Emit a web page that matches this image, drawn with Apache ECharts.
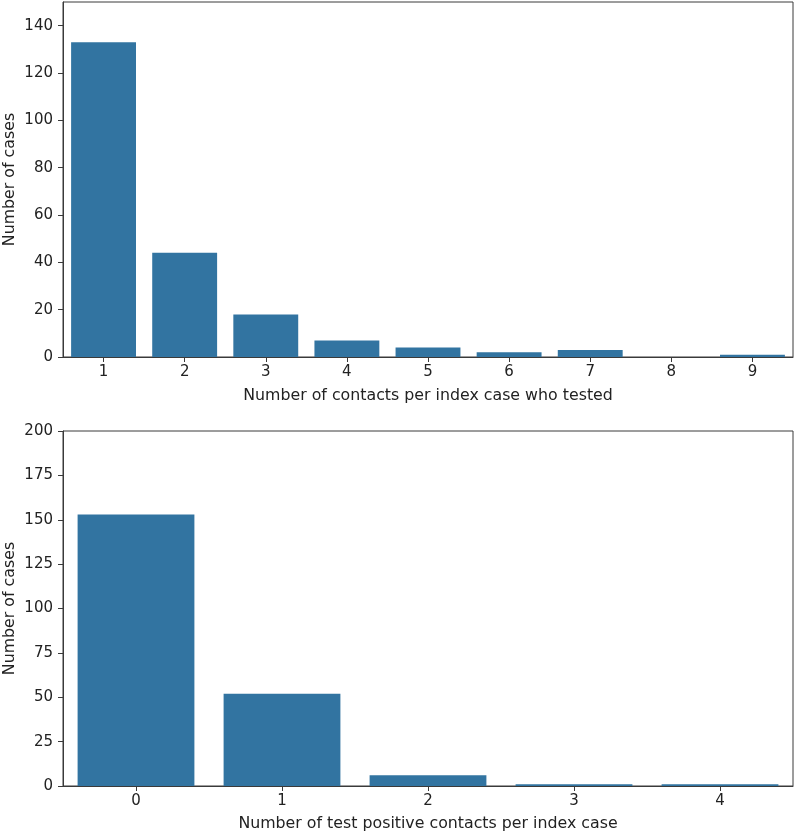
<!DOCTYPE html>
<html>
<head>
<meta charset="utf-8">
<script src="https://cdn.jsdelivr.net/npm/echarts@6/dist/echarts.min.js"></script>
<style>
html,body{margin:0;padding:0;background:#fff;}
#chart{width:796px;height:835px;}
</style>
</head>
<body>
<div id="chart"></div>
<script>
// Top chart: contacts per index case who tested
const contactsCategories = ['1','2','3','4','5','6','7','8','9'];
const contactsValues = [133, 44, 18, 7, 4, 2, 3, 0, 1];
// Bottom chart: test positive contacts per index case
const positiveCategories = ['0','1','2','3','4'];
const positiveValues = [153, 52, 6, 1, 1];

const topXTitle = 'Number of contacts per index case who tested';
const bottomXTitle = 'Number of test positive contacts per index case';
const yTitle = 'Number of cases';

const FONT = 'DejaVu Sans';
const TXT = '#222222';
const AX = '#3a3a3a';
const BAR = '#3274a1';

const chart = echarts.init(document.getElementById('chart'), null, {renderer:'canvas'});

function xAxisCfg(idx, cats, name, gap){
  return {
    type:'category', gridIndex:idx, data:cats,
    name:name, nameLocation:'middle', nameGap:gap, nameMoveOverlap:false,
    nameTextStyle:{fontFamily:FONT, fontSize:15.8, color:TXT},
    axisLine:{show:true, lineStyle:{color:AX, width:1}},
    axisTick:{show:true, alignWithLabel:true, length:5, lineStyle:{color:AX}},
    axisLabel:{fontFamily:FONT, fontSize:15, color:TXT, margin:8},
    splitLine:{show:false}
  };
}
function yAxisCfg(idx, max, interval, showMax){
  return {
    type:'value', gridIndex:idx, min:0, max:max, interval:interval,
    name:yTitle, nameLocation:'middle', nameGap:45, nameMoveOverlap:false,
    nameTextStyle:{fontFamily:FONT, fontSize:15.8, color:TXT},
    axisLine:{show:true, lineStyle:{color:AX, width:1}},
    axisTick:{show:true, length:5, lineStyle:{color:AX}},
    axisLabel:{fontFamily:FONT, fontSize:15, color:TXT, margin:10, showMaxLabel:showMax},
    splitLine:{show:false}
  };
}

chart.setOption({
  animation:false,
  backgroundColor:'#fff',
  grid:[
    {left:63, right:3, top:2, height:355, show:true, borderColor:AX, borderWidth:1, backgroundColor:'transparent', containLabel:false, outerBoundsMode:'none'},
    {left:63, right:3, top:431, height:355, show:true, borderColor:AX, borderWidth:1, backgroundColor:'transparent', containLabel:false, outerBoundsMode:'none'}
  ],
  xAxis:[
    xAxisCfg(0, contactsCategories, topXTitle, 31),
    xAxisCfg(1, positiveCategories, bottomXTitle, 30)
  ],
  yAxis:[
    yAxisCfg(0, 150, 20, false),
    yAxisCfg(1, 200, 25, true)
  ],
  series:[
    {type:'bar', xAxisIndex:0, yAxisIndex:0, data:contactsValues, barCategoryGap:'20%',
     itemStyle:{color:BAR}},
    {type:'bar', xAxisIndex:1, yAxisIndex:1, data:positiveValues, barCategoryGap:'20%',
     itemStyle:{color:BAR}}
  ]
});
</script>
</body>
</html>
